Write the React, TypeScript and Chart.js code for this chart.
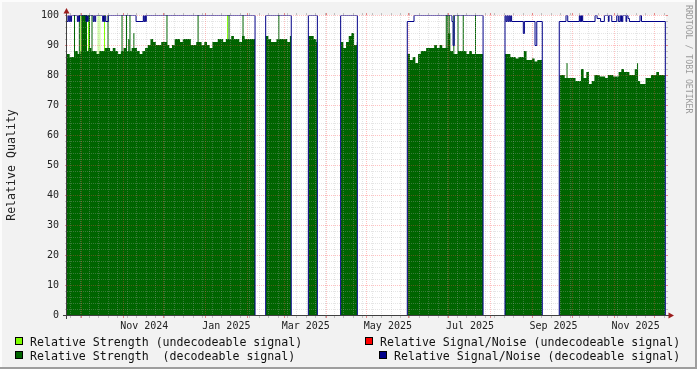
import React, { useEffect, useRef } from "react";
import { Chart, registerables } from "chart.js";
Chart.register(...registerables);

// x axis: days since 2024-09-21
const X_MIN = -0.4;
const X_MAX = 444.6;
const BIN = 2; // days per stored sample
const SPIKE_W = 0.75;

const monthStartDays = [10, 41, 71, 102, 133, 161, 192, 222, 253, 283, 314, 345, 375, 406, 436];
const labelDays = [57, 118, 177, 238, 299, 361, 422];
const labelTexts = ["Nov 2024", "Jan 2025", "Mar 2025", "May 2025", "Jul 2025", "Sep 2025", "Nov 2025"];
const yTicks = [0, 10, 20, 30, 40, 50, 60, 70, 80, 90, 100];

// Relative Strength (decodeable) — data runs (start / end day, 2-day samples)
const segStarts = [-0.4, 147.2, 178.9, 202.9, 252.4, 325.0, 365.4];
const segEnds = [139.3, 166.2, 185.6, 215.3, 308.7, 352.7, 444.1];
const seg1Values = [87, 86, 86, 88, 87, 88, 88, 88, 89, 88, 88, 87, 88, 88, 89, 89, 88, 89, 88, 87, 88, 89, 88, 88, 89, 89, 88, 87, 88, 89, 90, 92, 91, 90, 90, 91, 91, 90, 89, 90, 92, 92, 91, 92, 92, 92, 90, 90, 91, 91, 90, 91, 90, 89, 91, 91, 92, 92, 91, 92, 92, 93, 92, 92, 91, 93, 92, 92, 92, 92];
const seg2Values = [93, 92, 91, 91, 92, 92, 92, 92, 91, 93];
const seg3Values = [93, 93, 92, 91];
const seg4Values = [91, 89, 91, 93, 94, 90, 91];
const seg5Values = [87, 85, 86, 84, 87, 88, 88, 89, 89, 89, 90, 89, 90, 89, 89, 94, 88, 87, 87, 88, 88, 88, 87, 88, 87, 87, 87, 87, 87];
const seg6Values = [87, 87, 86, 86, 85.5, 86, 86, 88, 85, 85, 85.5, 84.5, 85, 85];
const seg7Values = [80, 80, 79, 79, 79, 79, 78, 78, 82, 79, 81, 77, 78, 80, 80, 79.5, 79.5, 79, 80, 80, 79.5, 79.5, 81, 82, 81, 81, 80, 80, 82, 78, 77, 77, 79, 79, 80, 80, 81, 80, 80, 80];
const segValues = [seg1Values, seg2Values, seg3Values, seg4Values, seg5Values, seg6Values, seg7Values];

// single-sample peaks of the decodeable strength
const darkPeakDays = [4.8, 8.4, 10.2, 10.9, 11.6, 12.3, 13.0, 13.7, 15.9, 17.8, 29.7, 40.1, 43.4, 45.1, 46.0, 48.9, 73.5, 96.6, 119.6, 130.0, 156.6, 281.0, 282.1, 283.2, 286.6, 289.7, 293.6, 302.7, 370.7, 423.1];
const darkPeakValues = [100, 100, 100, 100, 100, 100, 100, 100, 100, 100, 100, 100, 100, 92, 100, 94, 100, 100, 100, 100, 100, 100, 100, 100, 100, 100, 100, 100, 84, 84];

// Relative Strength (undecodeable)
const lightPeakDays = [9.4, 15.2, 22.3, 23.7, 27.1, 118.5];
const lightPeakValues = [100, 100, 100, 100, 100, 100];

// Relative Signal/Noise (decodeable): value holds from run start to next run start
const snRunStart = [
  -0.4, 0.3, 0.9, 1.6, 2.3, 3.0,
  7.3, 7.9, 8.4, 8.9,
  13.7, 14.3, 14.9, 15.4,
  19.1, 19.7, 20.3, 20.9,
  26.1, 26.7, 27.3, 27.9, 28.4, 30.3,
  50.9, 56.3, 56.8, 57.4, 58.0, 58.5,
  139.3,
  147.2, 166.2,
  178.9, 185.6,
  202.9, 215.3,
  252.4, 257.4, 285.6, 286.4, 287.3, 308.7,
  325.0, 325.7, 326.4, 327.1, 327.8, 328.5, 329.2, 329.9, 338.6, 339.4, 347.3, 348.6, 352.7,
  365.3, 370.3, 371.6, 380.2, 380.7, 381.2, 381.8, 382.2, 382.7, 391.9, 393.4, 396.0,
  398.8, 401.8, 402.3, 404.3, 408.0, 409.2, 410.4, 411.0, 411.5, 412.0, 412.5, 414.9, 415.4, 416.4, 417.4,
  425.3, 426.4, 444.1,
];
const snRunValue = [
  98, 100, 98, 100, 98, 100,
  98, 100, 98, 100,
  98, 100, 98, 100,
  98, 100, 98, 100,
  98, 100, 98, 100, 98, 100,
  98, 100, 98, 100, 98, 100,
  0,
  100, 0,
  100, 0,
  100, 0,
  98, 100, 98, 90, 100, 0,
  100, 98, 100, 98, 100, 98, 100, 98, 94, 98, 90, 98, 0,
  98, 100, 98, 100, 98, 100, 98, 100, 98, 100, 99, 98,
  100, 98, 100, 98, 100, 98, 100, 98, 100, 98, 100, 98, 100, 99, 98,
  100, 98, 0,
];

const FONT = "'DejaVu Sans Mono', monospace";
const C_LIGHT = "#7FFF00";
const C_DARK = "#006400";
const C_RED = "#FF0000";
const C_BLUE = "#000088";

type P = { x: number; y: number | null };

function buildStrength(): P[] {
  const pts: P[] = [];
  segStarts.forEach((s, i) => {
    const e = segEnds[i];
    const vals = segValues[i];
    const br = new Set<number>();
    vals.forEach((_, k) => { const d = s + k * BIN; if (d < e) br.add(+d.toFixed(3)); });
    darkPeakDays.forEach((d) => {
      if (d >= s && d < e) { br.add(d); if (d + SPIKE_W < e) br.add(+(d + SPIKE_W).toFixed(3)); }
    });
    const sorted = Array.from(br).sort((a, b) => a - b);
    sorted.forEach((d) => {
      let v = vals[Math.min(vals.length - 1, Math.floor((d - s) / BIN + 1e-6))];
      darkPeakDays.forEach((pd, j) => { if (d >= pd - 1e-6 && d < pd + SPIKE_W - 1e-6) v = Math.max(v, darkPeakValues[j]); });
      pts.push({ x: d, y: v });
    });
    pts.push({ x: e, y: pts[pts.length - 1].y });
    pts.push({ x: e + 0.01, y: null });
  });
  return pts;
}

function buildLight(): P[] {
  const pts: P[] = [];
  lightPeakDays.forEach((d, i) => {
    pts.push({ x: d, y: lightPeakValues[i] });
    pts.push({ x: d + SPIKE_W, y: lightPeakValues[i] });
    pts.push({ x: d + SPIKE_W + 0.01, y: null });
  });
  return pts;
}

function buildSN(): P[] {
  const pts: P[] = snRunStart.map((d, i) => ({ x: d, y: snRunValue[i] }));
  pts.push({ x: X_MAX, y: 0 });
  return pts;
}

const rrdPlugin = {
  id: "rrd",
  beforeDraw(chart: any) {
    const { ctx, width, height, chartArea: a } = chart;
    ctx.save();
    ctx.fillStyle = "#F2F2F2";
    ctx.fillRect(0, 0, width, height);
    ctx.fillStyle = "#FCFCFC";
    ctx.fillRect(0, 0, width, 2);
    ctx.fillRect(0, 0, 2, height);
    ctx.fillStyle = "#9E9E9E";
    ctx.fillRect(0, height - 2, width, 2);
    ctx.fillRect(width - 2, 0, 2, height);
    ctx.fillStyle = "#FFFFFF";
    ctx.fillRect(a.left, a.top, a.right - a.left, a.bottom - a.top);
    ctx.restore();
  },
  beforeDatasetDraw(chart: any, args: any) {
    if (args.index !== 0) return;
    const { ctx, chartArea: a, scales } = chart;
    const xs = scales.x;
    const ys = scales.y;
    ctx.save();
    ctx.lineWidth = 1;
    const minorC = "rgba(175,175,175,0.32)";
    const majorC = "rgba(255,70,70,0.33)";
    const minorT = "rgba(170,170,170,0.7)";
    const majorT = "rgba(220,90,90,0.7)";
    const hLine = (v: number, major: boolean) => {
      const py = Math.round(ys.getPixelForValue(v)) + 0.5;
      ctx.setLineDash([1, 1]);
      ctx.strokeStyle = major ? majorC : minorC;
      ctx.beginPath(); ctx.moveTo(a.left, py); ctx.lineTo(a.right, py); ctx.stroke();
      ctx.setLineDash([]);
      ctx.strokeStyle = major ? majorT : minorT;
      const t = 2;
      ctx.beginPath(); ctx.moveTo(a.left - t, py); ctx.lineTo(a.left, py);
      ctx.moveTo(a.right, py); ctx.lineTo(a.right + t, py); ctx.stroke();
    };
    const vLine = (d: number, major: boolean) => {
      const px = Math.round(xs.getPixelForValue(d)) + 0.5;
      if (px < a.left || px > a.right) return;
      ctx.setLineDash([1, 1]);
      ctx.strokeStyle = major ? majorC : minorC;
      ctx.beginPath(); ctx.moveTo(px, a.top); ctx.lineTo(px, a.bottom); ctx.stroke();
      ctx.setLineDash([]);
      ctx.strokeStyle = major ? majorT : minorT;
      const t = 2;
      ctx.beginPath(); ctx.moveTo(px, a.top - t); ctx.lineTo(px, a.top);
      ctx.moveTo(px, a.bottom); ctx.lineTo(px, a.bottom + t + 1); ctx.stroke();
    };
    for (let v = 2; v <= 100; v += 2) if (v % 10 !== 0) hLine(v, false);
    for (let d = 2; d < X_MAX; d += 7) if (!monthStartDays.includes(d)) vLine(d, false);
    yTicks.forEach((v) => hLine(v, true));
    monthStartDays.forEach((d) => vLine(d, true));
    ctx.restore();
    ctx.save();
    ctx.translate(0, 0.5);
  },
  afterDatasetDraw(chart: any, args: any) {
    if (args.index !== 0) return;
    chart.ctx.restore();
  },
  afterDatasetsDraw(chart: any) {
    const { ctx, chartArea: a } = chart;
    ctx.save();
    ctx.fillStyle = "#404040";
    ctx.fillRect(63, a.bottom, a.right - 63 + 3, 1);
    ctx.fillRect(a.left - 1, a.top - 3, 1, a.bottom - a.top + 7);
    ctx.fillStyle = "#9B1C1C";
    ctx.beginPath();
    ctx.moveTo(a.left - 0.5, 8); ctx.lineTo(a.left - 3.5, 13.5); ctx.lineTo(a.left + 2.5, 13.5); ctx.closePath(); ctx.fill();
    ctx.beginPath();
    ctx.moveTo(a.right + 8, a.bottom + 0.5); ctx.lineTo(a.right + 2.5, a.bottom - 2.5); ctx.lineTo(a.right + 2.5, a.bottom + 3.5); ctx.closePath(); ctx.fill();
    ctx.restore();
  },
  afterDraw(chart: any) {
    const { ctx } = chart;
    ctx.save();
    ctx.font = `11.6px ${FONT}`;
    ctx.textBaseline = "alphabetic";
    ctx.textAlign = "left";
    const items = [
      { bx: 15, by: 337, c: C_LIGHT, tx: 30, ty: 345.5, t: "Relative Strength (undecodeable signal)" },
      { bx: 365, by: 337, c: C_RED, tx: 380, ty: 345.5, t: "Relative Signal/Noise (undecodeable signal)" },
      { bx: 15, by: 351, c: C_DARK, tx: 30, ty: 359.5, t: "Relative Strength  (decodeable signal)" },
      { bx: 379, by: 351, c: C_BLUE, tx: 394, ty: 359.5, t: "Relative Signal/Noise (decodeable signal)" },
    ];
    items.forEach((it) => {
      ctx.fillStyle = it.c;
      ctx.fillRect(it.bx, it.by, 8, 8);
      ctx.strokeStyle = "#000";
      ctx.lineWidth = 1;
      ctx.strokeRect(it.bx + 0.5, it.by + 0.5, 7, 7);
      ctx.fillStyle = "#111";
      ctx.fillText(it.t, it.tx, it.ty);
    });
    ctx.font = `8.2px ${FONT}`;
    ctx.fillStyle = "#9A9A9A";
    ctx.translate(688.5, 5);
    ctx.rotate(Math.PI / 2);
    ctx.textBaseline = "middle";
    ctx.fillText("RRDTOOL / TOBI OETIKER", 0, 0);
    ctx.restore();
  },
};

export default function App() {
  const ref = useRef<HTMLCanvasElement>(null);
  useEffect(() => {
    document.body.style.margin = "0";
    const chart = new Chart(ref.current as HTMLCanvasElement, {
      type: "line",
      data: {
        datasets: [
          {
            label: "Relative Signal/Noise (decodeable signal)",
            data: buildSN() as any,
            borderColor: C_BLUE,
            borderWidth: 1,
            stepped: true,
            fill: false,
            pointRadius: 0,
            order: 0,
          },
          {
            label: "Relative Strength  (decodeable signal)",
            data: buildStrength() as any,
            borderColor: "rgba(0,0,0,0)",
            borderWidth: 0,
            backgroundColor: C_DARK,
            stepped: true,
            fill: "origin",
            spanGaps: false,
            pointRadius: 0,
            order: 1,
          },
          {
            label: "Relative Strength (undecodeable signal)",
            data: buildLight() as any,
            borderColor: "rgba(0,0,0,0)",
            borderWidth: 0,
            backgroundColor: C_LIGHT,
            stepped: true,
            fill: "origin",
            spanGaps: false,
            pointRadius: 0,
            order: 2,
          },
        ],
      },
      options: {
        animation: false,
        responsive: false,
        devicePixelRatio: 1,
        layout: { padding: { left: 0, right: 31, top: 15, bottom: 0 }, autoPadding: false },
        plugins: { legend: { display: false }, tooltip: { enabled: false } },
        elements: { point: { radius: 0 } },
        scales: {
          x: {
            type: "linear",
            min: X_MIN,
            max: X_MAX,
            grid: { display: false, drawTicks: false },
            border: { display: false },
            afterFit: (s: any) => { s.height = 54; },
            afterBuildTicks: (s: any) => { s.ticks = labelDays.map((v) => ({ value: v })); },
            ticks: {
              autoSkip: false,
              maxRotation: 0,
              padding: 5,
              font: { family: FONT, size: 10 },
              color: "#222",
              callback: (_v: any, i: number) => labelTexts[i],
            },
          },
          y: {
            min: 0,
            max: 100,
            grid: { display: false, drawTicks: false },
            border: { display: false },
            afterFit: (s: any) => { s.width = 67; },
            afterBuildTicks: (s: any) => { s.ticks = yTicks.map((v) => ({ value: v })); },
            ticks: { padding: 8, font: { family: FONT, size: 10 }, color: "#222" },
            title: {
              display: true,
              text: "Relative Quality",
              padding: { top: 5, bottom: 0 },
              font: { family: FONT, size: 11.6 },
              color: "#222",
            },
          },
        },
      } as any,
      plugins: [rrdPlugin],
    });
    return () => chart.destroy();
  }, []);
  return (
    <div style={{ position: "absolute", left: 0, top: 0, width: 697, height: 369 }}>
      <canvas ref={ref} width={697} height={369} style={{ display: "block", width: 697, height: 369 }} />
    </div>
  );
}
